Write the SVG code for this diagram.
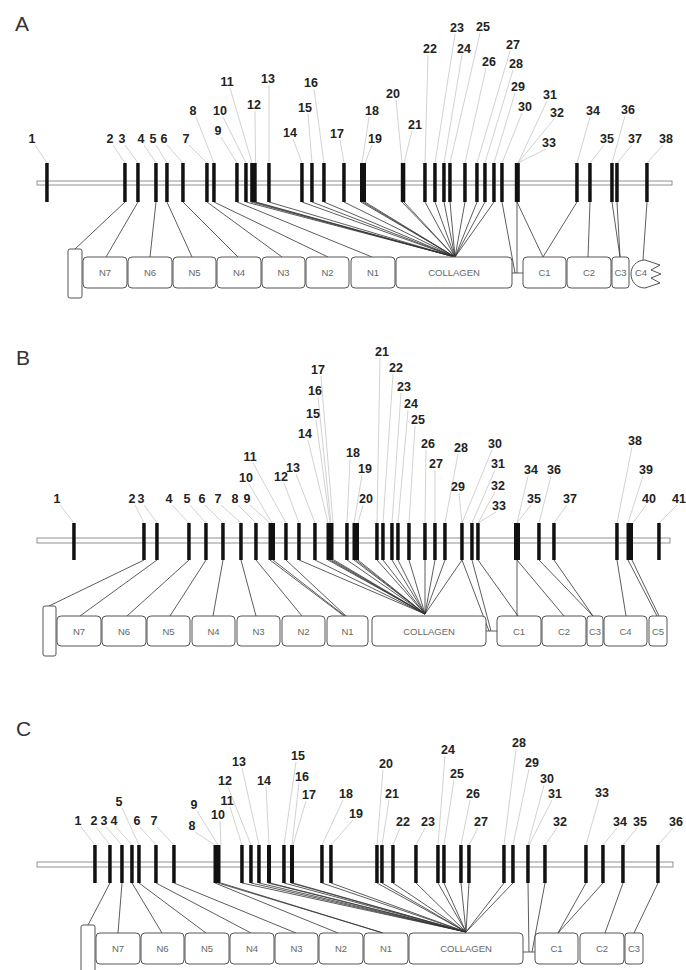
<svg xmlns="http://www.w3.org/2000/svg" width="686" height="970" viewBox="0 0 686 970">
  <style>
    .gene { fill: #fff; stroke: #777; stroke-width: 0.8; }
    .ex { fill: #111; }
    .num { font-family: "Liberation Sans", Arial, sans-serif; font-weight: bold; font-size: 12.5px; fill: #222; text-anchor: middle; }
    .lead { stroke: #b4b4b4; stroke-width: 0.6; fill: none; }
    .con { stroke: #333; stroke-width: 0.8; fill: none; }
    .box { fill: #fff; stroke: #555; stroke-width: 1; }
    .dt { font-family: "Liberation Sans", Arial, sans-serif; font-size: 9.5px; fill: #666; text-anchor: middle; }
    .panel { font-family: "Liberation Sans", Arial, sans-serif; font-size: 21px; fill: #333; }
  </style>
  <rect width="686" height="970" fill="#fff"/>

  <!-- ===================== Panel A ===================== -->
  <text class="panel" x="15" y="31">A</text>
  <rect id="geneA" class="gene" x="37" y="181" width="635" height="4"/>

  <g id="exonsA" class="ex" transform="translate(0,163)">
    <rect x="45.2" width="3.5" height="39"/>
    <rect x="123.2" width="3.5" height="39"/>
    <rect x="136.2" width="3.5" height="39"/>
    <rect x="154.2" width="3.5" height="39"/>
    <rect x="165.2" width="3.5" height="39"/>
    <rect x="181.2" width="3.5" height="39"/>
    <rect x="205.2" width="3.5" height="39"/>
    <rect x="212.2" width="3.5" height="39"/>
    <rect x="235.2" width="3.5" height="39"/>
    <rect x="244.2" width="3.5" height="39"/>
    <rect x="250.2" width="6.5" height="39"/>
    <rect x="267.2" width="3.5" height="39"/>
    <rect x="300.2" width="3.5" height="39"/>
    <rect x="310.2" width="3.5" height="39"/>
    <rect x="322.2" width="3.5" height="39"/>
    <rect x="342.2" width="3.5" height="39"/>
    <rect x="360" width="6" height="39"/>
    <rect x="400.8" width="4.5" height="39"/>
    <rect x="423.2" width="3.5" height="39"/>
    <rect x="433.2" width="3.5" height="39"/>
    <rect x="442.2" width="3.5" height="39"/>
    <rect x="448.2" width="3.5" height="39"/>
    <rect x="463.2" width="3.5" height="39"/>
    <rect x="475.2" width="3.5" height="39"/>
    <rect x="483.2" width="3.5" height="39"/>
    <rect x="492.2" width="3.5" height="39"/>
    <rect x="500.2" width="3.5" height="39"/>
    <rect x="514.8" width="5" height="39"/>
    <rect x="575.2" width="3.5" height="39"/>
    <rect x="588.2" width="3.5" height="39"/>
    <rect x="610.2" width="3.5" height="39"/>
    <rect x="615.2" width="3.5" height="39"/>
    <rect x="645.2" width="3.5" height="39"/>
  </g>

  <g id="leadersA" class="lead">
    <path d="M35 145L47 163M113 145L125 163M125 145L138 163M144 145L156 163M156 145L167 163M167 145L183 163M189 145L207 163M196 117L214 163M221 137L237 163M223 117L246 163M230 88L252 163M255 111L255.5 163M269 85L269 163M293 139L302 163M308 114L312 163M314 89L324 163M340 140L344 163M369 117L362 163M372 145L365 163M396 100L402 163M412 131L404 163M428 55L425 163M455 34L435 163M462 55L444 163M480 33L450 163M486 68L465 163M510 51L477 163M513 70L485 163M515 93L494 163M522 113L502 163M547 101L518 163M554 119L518 163M546 149L518 163M590 117L577 163M604 145L590 163M625 116L612 163M632 145L617 163M663 145L647 163"/>
  </g>

  <g id="numbersA" class="num">
    <text x="32" y="142.5">1</text><text x="110" y="142.5">2</text><text x="122" y="142.5">3</text>
    <text x="141" y="142.5">4</text><text x="153" y="142.5">5</text><text x="164" y="142.5">6</text>
    <text x="186" y="142.5">7</text><text x="193" y="114.5">8</text><text x="218" y="134.5">9</text>
    <text x="220" y="114.5">10</text><text x="227" y="85.5">11</text><text x="254" y="108.5">12</text>
    <text x="268" y="82.5">13</text><text x="290" y="136.5">14</text><text x="305" y="111.5">15</text>
    <text x="311" y="86.5">16</text><text x="337" y="137.5">17</text><text x="372" y="114.5">18</text>
    <text x="375" y="142.5">19</text><text x="393" y="97.5">20</text><text x="415" y="128.5">21</text>
    <text x="430" y="52.5">22</text><text x="457" y="31.5">23</text><text x="464" y="52.5">24</text>
    <text x="483" y="30.5">25</text><text x="489" y="65.5">26</text><text x="513" y="48.5">27</text>
    <text x="516" y="67.5">28</text><text x="518" y="90.5">29</text><text x="525" y="110.5">30</text>
    <text x="550" y="98.5">31</text><text x="557" y="116.5">32</text><text x="549" y="146.5">33</text>
    <text x="593" y="114.5">34</text><text x="607" y="142.5">35</text><text x="628" y="113.5">36</text>
    <text x="635" y="142.5">37</text><text x="666" y="142.5">38</text>
  </g>

  <g id="connectorsA" class="con">
    <path d="M125 202L75 249M138 202L106 257M156 202L150 257M167 202L192 257M183 202L238 257M207 202L282 257M214 202L328 257M237 202L372 257"/>
    <path d="M246 202L455 257M251 202L455 257M254 202L455 257M256 202L455 257M269 202L455 257M302 202L455 257M312 202L455 257M324 202L455 257M344 202L455 257M361 202L455 257M363 202L455 257M365 202L455 257M402 202L455 257M404 202L455 257M425 202L455 257M435 202L455 257M444 202L455 257M450 202L455 257M465 202L455 257M477 202L455 257M485 202L455 257M494 202L455 257"/>
    <path d="M502 202L515 273M517 202L517 273M517 202L543 257M577 202L543 257M590 202L588 257M612 202L620 257M617 202L620 257M647 202L643 260M512 273L523 273"/>
  </g>

  <g id="spA"><rect class="box" x="68" y="249" width="14" height="49" rx="2"/></g>
  <g id="N7A"><rect class="box" x="83" y="257" width="44" height="31" rx="4"/><text class="dt" x="105" y="276">N7</text></g>
  <g id="N6A"><rect class="box" x="128" y="257" width="44" height="31" rx="4"/><text class="dt" x="150" y="276">N6</text></g>
  <g id="N5A"><rect class="box" x="173" y="257" width="43" height="31" rx="4"/><text class="dt" x="194.5" y="276">N5</text></g>
  <g id="N4A"><rect class="box" x="217" y="257" width="44" height="31" rx="4"/><text class="dt" x="239" y="276">N4</text></g>
  <g id="N3A"><rect class="box" x="262" y="257" width="43" height="31" rx="4"/><text class="dt" x="283.5" y="276">N3</text></g>
  <g id="N2A"><rect class="box" x="306" y="257" width="43" height="31" rx="4"/><text class="dt" x="327.5" y="276">N2</text></g>
  <g id="N1A"><rect class="box" x="351" y="257" width="44" height="31" rx="4"/><text class="dt" x="373" y="276">N1</text></g>
  <g id="collagenA"><rect class="box" x="396" y="257" width="116" height="31" rx="4"/><text class="dt" x="454" y="276">COLLAGEN</text></g>
  <g id="C1A"><rect class="box" x="523" y="257" width="43" height="31" rx="4"/><text class="dt" x="544.5" y="276">C1</text></g>
  <g id="C2A"><rect class="box" x="567" y="257" width="44" height="31" rx="4"/><text class="dt" x="589" y="276">C2</text></g>
  <g id="C3A"><rect class="box" x="612" y="257" width="17" height="31" rx="3"/><text class="dt" x="620.5" y="276">C3</text></g>
  <g id="C4A"><path class="box" d="M645 260L660 265L651 270L661 274L651 278L660 283L645 288C636 288 631 281 631 274C631 267 636 260 645 260Z"/><text class="dt" x="641" y="276">C4</text></g>

  <!-- ===================== Panel B ===================== -->
  <text class="panel" x="16" y="365">B</text>
  <rect id="geneB" class="gene" x="37" y="538" width="633" height="5"/>

  <g id="exonsB" class="ex" transform="translate(0,523)">
    <rect x="72.2" width="3.5" height="37"/>
    <rect x="142.2" width="3.5" height="37"/>
    <rect x="155.2" width="3.5" height="37"/>
    <rect x="187.2" width="3.5" height="37"/>
    <rect x="204.2" width="3.5" height="37"/>
    <rect x="221.2" width="3.5" height="37"/>
    <rect x="239.2" width="3.5" height="37"/>
    <rect x="254.2" width="3.5" height="37"/>
    <rect x="268.5" width="6.5" height="37"/>
    <rect x="284.2" width="3.5" height="37"/>
    <rect x="297.2" width="3.5" height="37"/>
    <rect x="313.2" width="3.5" height="37"/>
    <rect x="326.5" width="7" height="37"/>
    <rect x="345.2" width="3.5" height="37"/>
    <rect x="352.5" width="6.5" height="37"/>
    <rect x="375.2" width="3.5" height="37"/>
    <rect x="381.2" width="3.5" height="37"/>
    <rect x="390.2" width="3.5" height="37"/>
    <rect x="396.2" width="3.5" height="37"/>
    <rect x="407.2" width="3.5" height="37"/>
    <rect x="423.2" width="3.5" height="37"/>
    <rect x="433.2" width="3.5" height="37"/>
    <rect x="443.2" width="3.5" height="37"/>
    <rect x="460.2" width="3.5" height="37"/>
    <rect x="470.2" width="3.5" height="37"/>
    <rect x="476.2" width="3.5" height="37"/>
    <rect x="514" width="6" height="37"/>
    <rect x="537.2" width="3.5" height="37"/>
    <rect x="552.2" width="3.5" height="37"/>
    <rect x="615.2" width="3.5" height="37"/>
    <rect x="626.5" width="6.5" height="37"/>
    <rect x="657.2" width="3.5" height="37"/>
  </g>

  <g id="leadersB" class="lead">
    <path d="M60 505L74 523M135 505L144 523M144 505L157 523M172 505L189 523M190 505L206 523M205 505L223 523M221 505L241 523M238 505L256 523M250 505L270 523M249 484L272 523M253 463L286 523M284 483L299 523M296 474L315 523M308 440L328 523M316 420L330 523M318 397L331 523M321 376L333 523M350 459L347 523M362 475L354 523M363 505L358 523M380 358L377 523M393 374L383 523M401 393L392 523M408 410L398 523M415 426L409 523M426 450L425 523M435 470L435 523M458 454L445 523M459 493L462 523M492 450L462 523M495 470L472 523M495 492L478 523M496 512L478 523M528 476L517 523M531 505L517 523M551 476L539 523M567 505L554 523M632 447L617 523M643 476L628 523M646 505L633 523M677 505L659 523"/>
  </g>

  <g id="numbersB" class="num">
    <text x="57" y="502.5">1</text><text x="132" y="502.5">2</text><text x="141" y="502.5">3</text>
    <text x="169" y="502.5">4</text><text x="187" y="502.5">5</text><text x="202" y="502.5">6</text>
    <text x="218" y="502.5">7</text><text x="235" y="502.5">8</text><text x="247" y="502.5">9</text>
    <text x="246" y="481.5">10</text><text x="250" y="460.5">11</text><text x="281" y="480.5">12</text>
    <text x="293" y="471.5">13</text><text x="305" y="437.5">14</text><text x="313" y="417.5">15</text>
    <text x="315" y="394.5">16</text><text x="318" y="373.5">17</text><text x="353" y="456.5">18</text>
    <text x="365" y="472.5">19</text><text x="366" y="502.5">20</text><text x="382" y="355.5">21</text>
    <text x="396" y="371.5">22</text><text x="404" y="390.5">23</text><text x="411" y="407.5">24</text>
    <text x="418" y="423.5">25</text><text x="428" y="447.5">26</text><text x="436" y="467.5">27</text>
    <text x="461" y="451.5">28</text><text x="458" y="490.5">29</text><text x="495" y="447.5">30</text>
    <text x="498" y="467.5">31</text><text x="498" y="489.5">32</text><text x="499" y="509.5">33</text>
    <text x="531" y="473.5">34</text><text x="534" y="502.5">35</text><text x="554" y="473.5">36</text>
    <text x="570" y="502.5">37</text><text x="635" y="444.5">38</text><text x="646" y="473.5">39</text>
    <text x="649" y="502.5">40</text><text x="679" y="502.5">41</text>
  </g>

  <g id="connectorsB" class="con">
    <path d="M144 560L49 606M157 560L80 616M189 560L127 616M206 560L170 616M223 560L213 616M241 560L256 616M256 560L302 616M270 560L344 616M273 560L345 616M286 560L346 616"/>
    <path d="M299 560L425 614M315 560L425 614M328 560L425 614M330 560L425 614M332 560L425 614M334 560L425 614M347 560L425 614M354 560L425 614M356 560L425 614M358 560L425 614M377 560L425 614M383 560L425 614M392 560L425 614M398 560L425 614M409 560L425 614M425 560L425 614M435 560L425 614M445 560L425 614M462 560L425 614"/>
    <path d="M462 560L489 631M472 560L491 631M478 560L518 616M517 560L517 616M517 560L564 616M539 560L593 616M554 560L593 616M617 560L626 616M628 560L657 616M632 560L659 616M486 631L497 631"/>
  </g>

  <g id="spB"><rect class="box" x="43" y="606" width="13" height="50" rx="2"/></g>
  <g id="N7B"><rect class="box" x="57" y="616" width="44" height="30" rx="4"/><text class="dt" x="79" y="634.5">N7</text></g>
  <g id="N6B"><rect class="box" x="102" y="616" width="44" height="30" rx="4"/><text class="dt" x="124" y="634.5">N6</text></g>
  <g id="N5B"><rect class="box" x="147" y="616" width="43" height="30" rx="4"/><text class="dt" x="168.5" y="634.5">N5</text></g>
  <g id="N4B"><rect class="box" x="192" y="616" width="43" height="30" rx="4"/><text class="dt" x="213.5" y="634.5">N4</text></g>
  <g id="N3B"><rect class="box" x="237" y="616" width="43" height="30" rx="4"/><text class="dt" x="258.5" y="634.5">N3</text></g>
  <g id="N2B"><rect class="box" x="282" y="616" width="43" height="30" rx="4"/><text class="dt" x="303.5" y="634.5">N2</text></g>
  <g id="N1B"><rect class="box" x="327" y="616" width="41" height="30" rx="4"/><text class="dt" x="347.5" y="634.5">N1</text></g>
  <g id="collagenB"><rect class="box" x="372" y="616" width="114" height="30" rx="4"/><text class="dt" x="429" y="634.5">COLLAGEN</text></g>
  <g id="C1B"><rect class="box" x="497" y="616" width="44" height="30" rx="4"/><text class="dt" x="519" y="634.5">C1</text></g>
  <g id="C2B"><rect class="box" x="542" y="616" width="44" height="30" rx="4"/><text class="dt" x="564" y="634.5">C2</text></g>
  <g id="C3B"><rect class="box" x="587" y="616" width="16" height="30" rx="3"/><text class="dt" x="595" y="634.5">C3</text></g>
  <g id="C4B"><rect class="box" x="604" y="616" width="43" height="30" rx="4"/><text class="dt" x="625.5" y="634.5">C4</text></g>
  <g id="C5B"><rect class="box" x="649" y="616" width="18" height="30" rx="3"/><text class="dt" x="658" y="634.5">C5</text></g>

  <!-- ===================== Panel C ===================== -->
  <text class="panel" x="16" y="736">C</text>
  <rect id="geneC" class="gene" x="37" y="862" width="636" height="5"/>

  <g id="exonsC" class="ex" transform="translate(0,845)">
    <rect x="93.2" width="3.5" height="38"/>
    <rect x="108.2" width="3.5" height="38"/>
    <rect x="120.2" width="3.5" height="38"/>
    <rect x="130.2" width="3.5" height="38"/>
    <rect x="137.2" width="3.5" height="38"/>
    <rect x="154.2" width="3.5" height="38"/>
    <rect x="172.2" width="3.5" height="38"/>
    <rect x="213.5" width="7" height="38"/>
    <rect x="240.2" width="3.5" height="38"/>
    <rect x="249.2" width="3.5" height="38"/>
    <rect x="257.2" width="3.5" height="38"/>
    <rect x="267" width="4" height="38"/>
    <rect x="282.2" width="3.5" height="38"/>
    <rect x="290" width="4" height="38"/>
    <rect x="320.2" width="3.5" height="38"/>
    <rect x="329.2" width="3.5" height="38"/>
    <rect x="375.2" width="3.5" height="38"/>
    <rect x="380.2" width="3.5" height="38"/>
    <rect x="391.2" width="3.5" height="38"/>
    <rect x="414.2" width="3.5" height="38"/>
    <rect x="436.2" width="3.5" height="38"/>
    <rect x="442.2" width="3.5" height="38"/>
    <rect x="459.2" width="3.5" height="38"/>
    <rect x="467.2" width="3.5" height="38"/>
    <rect x="502.2" width="3.5" height="38"/>
    <rect x="511.2" width="3.5" height="38"/>
    <rect x="526.2" width="3.5" height="38"/>
    <rect x="543.2" width="3.5" height="38"/>
    <rect x="584.2" width="3.5" height="38"/>
    <rect x="601.2" width="3.5" height="38"/>
    <rect x="621.2" width="3.5" height="38"/>
    <rect x="656.2" width="3.5" height="38"/>
  </g>

  <g id="leadersC" class="lead">
    <path d="M81 827L95 845M96 827L110 845M106 827L122 845M116 827L132 845M122 808L139 845M140 827L156 845M157 827L174 845M195 832L215 845M197 811L218 845M220 821L221 845M230 807L242 845M228 787L251 845M242 768L259 845M266 787L269 845M296 762L284 845M299 783L292 845M306 801L293 845M343 800L322 845M353 820L331 845M383 770L377 845M389 800L382 845M400 828L393 845M425 828L416 845M445 756L438 845M454 780L444 845M470 800L461 845M478 828L469 845M516 749L504 845M529 769L513 845M544 785L528 845M552 800L529 845M557 828L545 845M599 799L586 845M617 828L603 845M637 828L623 845M673 828L658 845"/>
  </g>

  <g id="numbersC" class="num">
    <text x="78" y="824.5">1</text><text x="94" y="824.5">2</text><text x="104" y="824.5">3</text>
    <text x="114" y="824.5">4</text><text x="119" y="805.5">5</text><text x="137" y="824.5">6</text>
    <text x="154" y="824.5">7</text><text x="192" y="829.5">8</text><text x="194" y="808.5">9</text>
    <text x="218" y="818.5">10</text><text x="227" y="804.5">11</text><text x="225" y="784.5">12</text>
    <text x="239" y="765.5">13</text><text x="264" y="784.5">14</text><text x="298" y="759.5">15</text>
    <text x="302" y="780.5">16</text><text x="309" y="798.5">17</text><text x="346" y="797.5">18</text>
    <text x="356" y="817.5">19</text><text x="386" y="767.5">20</text><text x="392" y="797.5">21</text>
    <text x="403" y="825.5">22</text><text x="428" y="825.5">23</text><text x="448" y="753.5">24</text>
    <text x="457" y="777.5">25</text><text x="473" y="797.5">26</text><text x="481" y="825.5">27</text>
    <text x="519" y="746.5">28</text><text x="532" y="766.5">29</text><text x="547" y="782.5">30</text>
    <text x="555" y="797.5">31</text><text x="560" y="825.5">32</text><text x="602" y="796.5">33</text>
    <text x="620" y="825.5">34</text><text x="640" y="825.5">35</text><text x="676" y="825.5">36</text>
  </g>

  <g id="connectorsC" class="con">
    <path d="M110 883L88 925M122 883L118 933M132 883L162 933M139 883L206 933M156 883L251 933M174 883L296 933M215 883L338 933M218 883L383 933M221 883L383 933"/>
    <path d="M242 883L466 932M251 883L466 932M259 883L466 932M268 883L466 932M270 883L466 932M284 883L466 932M291 883L466 932M293 883L466 932M322 883L466 932M331 883L466 932M377 883L466 932M382 883L466 932M393 883L466 932M416 883L466 932M438 883L466 932M444 883L466 932M461 883L466 932M469 883L466 932M504 883L466 932M513 883L466 932"/>
    <path d="M528 883L529 952M545 883L532 952M586 883L558 933M603 883L558 933M623 883L605 933M658 883L634 933M523 952L535 952"/>
  </g>

  <g id="spC"><rect class="box" x="81" y="925" width="14" height="55" rx="2"/></g>
  <g id="N7C"><rect class="box" x="96" y="933" width="44" height="31" rx="4"/><text class="dt" x="118" y="952">N7</text></g>
  <g id="N6C"><rect class="box" x="141" y="933" width="43" height="31" rx="4"/><text class="dt" x="162.5" y="952">N6</text></g>
  <g id="N5C"><rect class="box" x="185" y="933" width="44" height="31" rx="4"/><text class="dt" x="207" y="952">N5</text></g>
  <g id="N4C"><rect class="box" x="230" y="933" width="44" height="31" rx="4"/><text class="dt" x="252" y="952">N4</text></g>
  <g id="N3C"><rect class="box" x="275" y="933" width="43" height="31" rx="4"/><text class="dt" x="296.5" y="952">N3</text></g>
  <g id="N2C"><rect class="box" x="319" y="933" width="44" height="31" rx="4"/><text class="dt" x="341" y="952">N2</text></g>
  <g id="N1C"><rect class="box" x="364" y="933" width="44" height="31" rx="4"/><text class="dt" x="386" y="952">N1</text></g>
  <g id="collagenC"><rect class="box" x="409" y="933" width="114" height="31" rx="4"/><text class="dt" x="466" y="952">COLLAGEN</text></g>
  <g id="C1C"><rect class="box" x="535" y="933" width="43" height="31" rx="4"/><text class="dt" x="556.5" y="952">C1</text></g>
  <g id="C2C"><rect class="box" x="580" y="933" width="44" height="31" rx="4"/><text class="dt" x="602" y="952">C2</text></g>
  <g id="C3C"><rect class="box" x="625" y="933" width="18" height="31" rx="3"/><text class="dt" x="634" y="952">C3</text></g>
</svg>
